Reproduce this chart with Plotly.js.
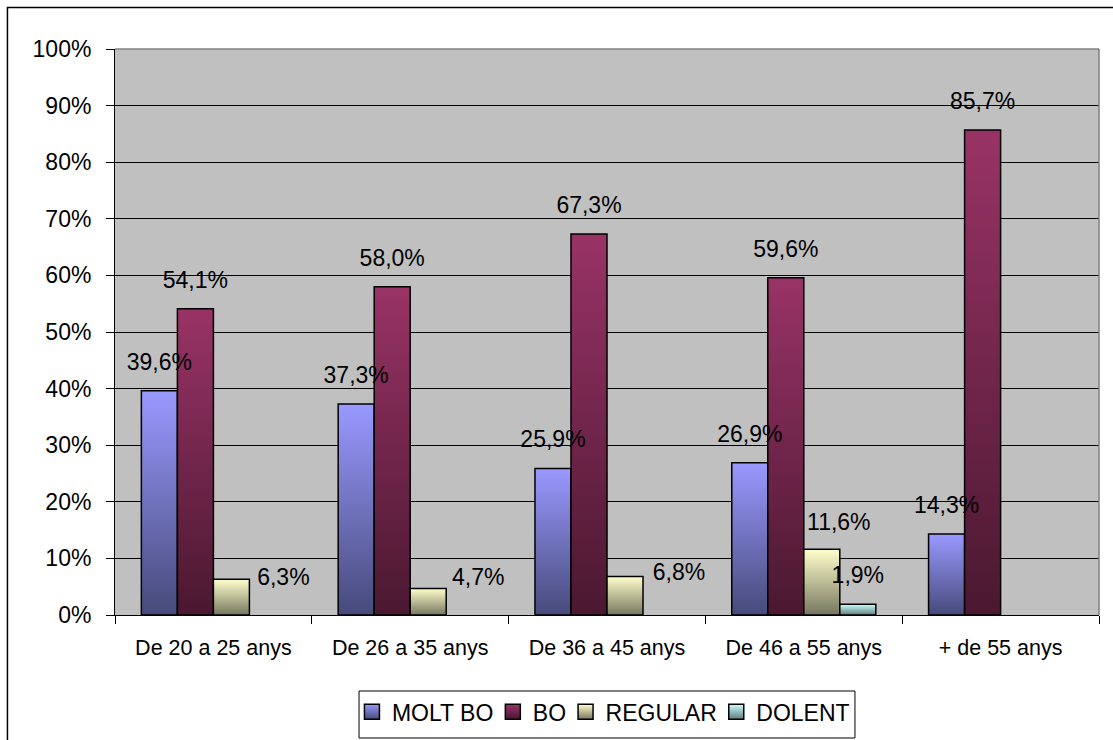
<!DOCTYPE html>
<html>
<head>
<meta charset="utf-8">
<script src="https://cdn.plot.ly/plotly-3.0.1.min.js"></script>
<style>
  html, body { margin: 0; padding: 0; background: #ffffff; }
  #chart { width: 1113px; height: 740px; }
</style>
</head>
<body>
<div id="chart"></div>
<script>
// ---- data ----
var categories = ["De 20 a 25 anys", "De 26 a 35 anys", "De 36 a 45 anys", "De 46 a 55 anys", "+ de 55 anys"];
var seriesNames = ["MOLT BO", "BO", "REGULAR", "DOLENT"];
var moltBo  = [39.6, 37.3, 25.9, 26.9, 14.3];
var bo      = [54.1, 58.0, 67.3, 59.6, 85.7];
var regular = [6.3, 4.7, 6.8, 11.6, null];
var dolent  = [null, null, null, 1.9, null];
var yTickValues = [0, 10, 20, 30, 40, 50, 60, 70, 80, 90, 100];
var yTickLabels = ["0%", "10%", "20%", "30%", "40%", "50%", "60%", "70%", "80%", "90%", "100%"];

// ---- styles ----
var gradients = [
  ["#9999FF", "#474A7A"],
  ["#993366", "#4A1830"],
  ["#FFFFCC", "#777760"],
  ["#CCFFFF", "#5F7E7E"]
];
var flatColors = ["#8080D0", "#7A2850", "#D8D8AA", "#A8D8D8"];
// extra label nudges (px) per series, per category
var labelNudge = {
  2: [[52, 27], [50, 18], [54, 24], [17, 2], [0, 0]],
  3: [[0, 0], [0, 0], [0, 0], [0, 0], [10, 5]]
};
var labelLift = -13;
var legendTextToNextSwatch = 12;
var legendCenterX = 607;
var legendSwatchHalf = 7.5;

var font = "Liberation Sans, Arial, sans-serif";
var allSeries = [moltBo, bo, regular, dolent];

var traces = allSeries.map(function (vals, i) {
  return {
    type: "bar",
    name: seriesNames[i],
    x: categories,
    y: vals,
    marker: { color: flatColors[i], line: { color: "#000000", width: 1.5 } },
    texttemplate: "%{y:.1f}%",
    textposition: "outside",
    constraintext: "none",
    cliponaxis: false,
    textfont: { family: font, size: 23, color: "#000000" },
    hoverinfo: "skip"
  };
});

var layout = {
  width: 1113,
  height: 740,
  margin: { l: 115, r: 14, t: 49, b: 125, autoexpand: false },
  paper_bgcolor: "#ffffff",
  plot_bgcolor: "#C0C0C0",
  separators: ",.",
  barmode: "group",
  bargap: 0.268,
  bargroupgap: 0,
  showlegend: true,
  font: { family: font, color: "#000000" },
  xaxis: {
    type: "category",
    showgrid: false,
    showline: true,
    linecolor: "#000000",
    linewidth: 1,
    ticks: "outside",
    tickson: "boundaries",
    ticklen: 8,
    tickcolor: "#000000",
    tickfont: { family: font, size: 21.5, color: "#000000" },
    ticklabelstandoff: 13,
    zeroline: false
  },
  yaxis: {
    range: [0, 100],
    tickmode: "array",
    tickvals: yTickValues,
    ticktext: yTickLabels,
    showgrid: true,
    gridcolor: "#000000",
    gridwidth: 1,
    showline: true,
    linecolor: "#000000",
    linewidth: 1,
    ticks: "outside",
    ticklen: 8,
    tickcolor: "#000000",
    tickfont: { family: font, size: 23, color: "#000000" },
    ticklabelstandoff: 10,
    zeroline: false
  },
  legend: {
    orientation: "h",
    x: 0.5,
    xanchor: "center",
    y: -0.171,
    yanchor: "middle",
    bgcolor: "rgba(0,0,0,0)",
    borderwidth: 0,
    font: { family: font, size: 23, color: "#000000" },
    itemwidth: 30,
    tracegroupgap: 0
  },
  shapes: [
    { type: "rect", xref: "paper", yref: "paper",
      x0: -0.1093, x1: 1.05, y0: -0.3, y1: 1.0733,
      line: { color: "#000000", width: 1.5 }, fillcolor: "rgba(0,0,0,0)", layer: "below" },
    { type: "line", xref: "paper", yref: "paper",
      x0: 0, x1: 1, y0: 1, y1: 1, line: { color: "#808080", width: 1.5 } },
    { type: "line", xref: "paper", yref: "paper",
      x0: 1, x1: 1, y0: 0, y1: 1, line: { color: "#808080", width: 1.5 } },
    { type: "rect", xref: "paper", yref: "paper",
      x0: 0.248, x1: 0.752, y0: -0.2173, y1: -0.1343,
      line: { color: "#000000", width: 1 }, fillcolor: "#ffffff", layer: "above" }
  ]
};

Plotly.newPlot("chart", traces, layout, { displayModeBar: false, staticPlot: true }).then(function (gd) {
  var svgNS = "http://www.w3.org/2000/svg";
  var svg = gd.querySelector(".main-svg");
  var defs = svg.querySelector("defs");
  gradients.forEach(function (g, i) {
    var lg = document.createElementNS(svgNS, "linearGradient");
    lg.setAttribute("id", "barGrad" + i);
    lg.setAttribute("x1", "0"); lg.setAttribute("y1", "0");
    lg.setAttribute("x2", "0"); lg.setAttribute("y2", "1");
    var s1 = document.createElementNS(svgNS, "stop");
    s1.setAttribute("offset", "0"); s1.setAttribute("stop-color", g[0]);
    var s2 = document.createElementNS(svgNS, "stop");
    s2.setAttribute("offset", "1"); s2.setAttribute("stop-color", g[1]);
    lg.appendChild(s1); lg.appendChild(s2);
    defs.appendChild(lg);
  });
  var barLayer = gd.querySelector(".barlayer");
  var topTexts = document.createElementNS(svgNS, "g");
  topTexts.setAttribute("class", "toplabels");
  var barTraces = gd.querySelectorAll(".barlayer .trace");
  barTraces.forEach(function (tr, i) {
    tr.querySelectorAll(".point").forEach(function (pt, j) {
      var p = pt.querySelector("path");
      if (p) p.style.fill = "url(#barGrad" + i + ")";
      var t = pt.querySelector("text");
      if (t) {
        var dx = 0, dy = labelLift;
        if (labelNudge[i] && labelNudge[i][j]) { dx += labelNudge[i][j][0]; dy += labelNudge[i][j][1]; }
        var tf = t.getAttribute("transform") || "";
        t.setAttribute("transform", "translate(" + dx + "," + dy + ") " + tf);
        topTexts.appendChild(t);
      }
    });
  });
  barLayer.appendChild(topTexts);

  // legend: gradient swatches and compact spacing like the reference
  var legendItems = Array.prototype.slice.call(gd.querySelectorAll(".legend .traces"));
  var h = legendSwatchHalf;
  legendItems.forEach(function (it, i) {
    var p = it.querySelector(".legendpoints path");
    if (p) {
      p.style.fill = "url(#barGrad" + i + ")";
      p.setAttribute("d", "M" + h + "," + h + "H-" + h + "V-" + h + "H" + h + "Z");
    }
  });
  var shifts = [];
  var cursor = null;
  legendItems.forEach(function (it, i) {
    var sw = it.querySelector(".legendpoints path").getBoundingClientRect();
    var tx = it.querySelector(".legendtext").getBoundingClientRect();
    var shift = 0;
    if (cursor !== null) shift = cursor - sw.left;
    shifts.push(shift);
    cursor = tx.right + shift + legendTextToNextSwatch;
  });
  var firstLeft = legendItems[0].querySelector(".legendpoints path").getBoundingClientRect().left;
  var lastRight = legendItems[legendItems.length - 1].querySelector(".legendtext").getBoundingClientRect().right + shifts[shifts.length - 1];
  var centerShift = legendCenterX - (firstLeft + lastRight) / 2;
  legendItems.forEach(function (it, i) {
    var tf = it.getAttribute("transform") || "";
    it.setAttribute("transform", "translate(" + (shifts[i] + centerShift) + ",0) " + tf);
  });
});
</script>
</body>
</html>
